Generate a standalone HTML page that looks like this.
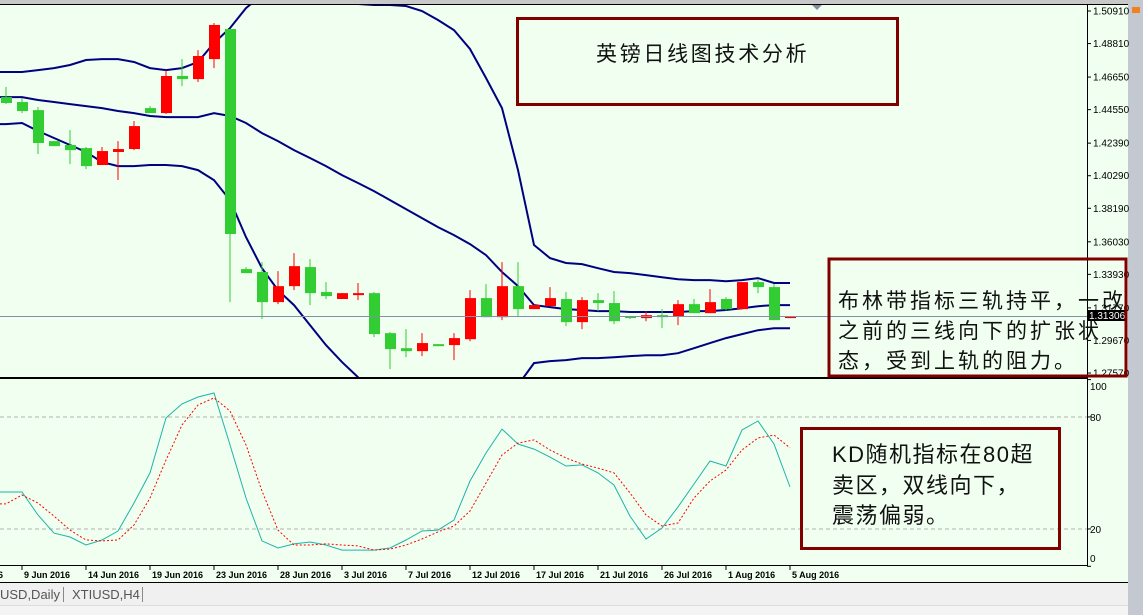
<!DOCTYPE html>
<html><head><meta charset="utf-8"><style>
html,body{margin:0;padding:0;background:#f0fff0;}
svg{display:block;}
text{font-family:"Liberation Sans","Noto Sans CJK SC",sans-serif;}
</style></head><body>
<svg id="chart" width="1143" height="615" xmlns="http://www.w3.org/2000/svg">
<rect x="0" y="0" width="1143" height="615" fill="#f0fff0"/>
<rect x="0" y="0" width="1143" height="4" fill="#c8c8c8"/>
<line x1="0" y1="4.5" x2="1128" y2="4.5" stroke="#000"/>
<rect x="1128" y="0" width="15" height="615" fill="#c4c8d0"/>
<rect x="1132" y="7" width="8" height="6" fill="#f08020"/>
<polygon points="812,5 822,5 817,10" fill="#8090a0"/>
<g id="priceGrid"></g>
<g id="bands"></g>
<g id="candles"></g>
<g id="stoch"></g>
<g id="dates"></g>

<line x1="0" y1="316.5" x2="1087" y2="316.5" stroke="#8090a8"/>
<rect x="1087" y="310" width="39" height="11" fill="#000"/>
<text x="1089" y="319" font-size="10" fill="#fff">1.31306</text>

<rect x="517.5" y="18.5" width="380" height="86" fill="none" stroke="#800000" stroke-width="3"/>
<text x="596" y="61" font-size="21" letter-spacing="2.7" fill="#111">英镑日线图技术分析</text>

<rect x="829" y="259" width="297" height="117" fill="none" stroke="#800000" stroke-width="3"/>
<g font-size="21" letter-spacing="3" fill="#111">
<text x="838" y="308">布林带指标三轨持平，一改</text>
<text x="838" y="338">之前的三线向下的扩张状</text>
<text x="838" y="368">态，受到上轨的阻力。</text>
</g>

<rect x="801.5" y="428.5" width="258" height="120" fill="none" stroke="#800000" stroke-width="3"/>
<g font-size="22" letter-spacing="1.5" fill="#111">
<text x="832" y="462">KD随机指标在80超</text>
<text x="832" y="493">卖区，双线向下，</text>
<text x="832" y="523">震荡偏弱。</text>
</g>

<rect x="0" y="583" width="1128" height="22" fill="#f0f0f0"/>
<line x1="0" y1="582.5" x2="1128" y2="582.5" stroke="#000"/>
<text x="0" y="599" font-size="13" fill="#555">USD,Daily</text>
<line x1="63.5" y1="587" x2="63.5" y2="602" stroke="#888"/>
<text x="72" y="599" font-size="13" fill="#555">XTIUSD,H4</text>
<line x1="142.5" y1="587" x2="142.5" y2="602" stroke="#888"/>
<rect x="0" y="606" width="1128" height="9" fill="#f4f4f4"/>
<line x1="0" y1="605.5" x2="1128" y2="605.5" stroke="#ddd"/>
</svg>
<script>
const opens=[1.4536,1.4504,1.4452,1.4252,1.4227,1.4207,1.4098,1.4182,1.4201,1.4465,1.4433,1.4672,1.4652,1.4781,1.4975,1.3427,1.3408,1.3214,1.3317,1.3440,1.3279,1.3234,1.3266,1.3272,1.3014,1.2917,1.2898,1.2943,1.2937,1.2975,1.3240,1.3117,1.3317,1.3169,1.3188,1.3234,1.3085,1.3227,1.3208,1.3124,1.3111,1.3130,1.3124,1.3201,1.3143,1.3234,1.3169,1.3343,1.3311,1.3111];
const highs=[1.4601,1.4530,1.4472,1.4252,1.4323,1.4214,1.4214,1.4252,1.4382,1.4478,1.4710,1.4781,1.4839,1.5014,1.4975,1.3440,1.3472,1.3414,1.3530,1.3491,1.3343,1.3272,1.3337,1.3279,1.3021,1.3040,1.3014,1.2943,1.3014,1.3291,1.3330,1.3472,1.3472,1.3195,1.3311,1.3279,1.3246,1.3272,1.3285,1.3124,1.3156,1.3169,1.3227,1.3234,1.3298,1.3246,1.3343,1.3362,1.3330,1.3124];
const lows=[1.4491,1.4433,1.4169,1.4220,1.4104,1.4072,1.4098,1.4001,1.4194,1.4433,1.4427,1.4607,1.4633,1.4723,1.3214,1.3401,1.3105,1.3201,1.3291,1.3195,1.3234,1.3234,1.3227,1.2988,1.2782,1.2859,1.2866,1.2930,1.2840,1.2962,1.3117,1.3098,1.3117,1.3169,1.3188,1.3059,1.3040,1.3156,1.3072,1.3105,1.3091,1.3047,1.3066,1.3143,1.3143,1.3160,1.3169,1.3272,1.3098,1.3111];
const closes=[1.4498,1.4446,1.4240,1.4220,1.4194,1.4091,1.4188,1.4201,1.4349,1.4433,1.4672,1.4652,1.4801,1.5001,1.3653,1.3401,1.3214,1.3317,1.3446,1.3272,1.3253,1.3272,1.3272,1.3008,1.2911,1.2898,1.2950,1.2930,1.2982,1.3240,1.3117,1.3317,1.3169,1.3195,1.3240,1.3085,1.3227,1.3208,1.3091,1.3111,1.3130,1.3117,1.3201,1.3143,1.3214,1.3169,1.3343,1.3311,1.3098,1.3124];
const bbUpper=[1.4698,1.4698,1.4710,1.4723,1.4743,1.4775,1.4781,1.4781,1.4762,1.4723,1.4710,1.4723,1.4762,1.4885,1.4981,1.5110,1.5194,1.5259,1.5291,1.5304,1.5226,1.5162,1.5136,1.5130,1.5130,1.5123,1.5091,1.5033,1.4968,1.4846,1.4659,1.4465,1.4065,1.3582,1.3498,1.3466,1.3459,1.3433,1.3408,1.3401,1.3388,1.3375,1.3362,1.3356,1.3356,1.3349,1.3356,1.3369,1.3337,1.3337];
const bbMid=[1.4536,1.4536,1.4517,1.4504,1.4491,1.4478,1.4465,1.4446,1.4433,1.4414,1.4407,1.4407,1.4407,1.4433,1.4414,1.4369,1.4304,1.4252,1.4194,1.4143,1.4091,1.4033,1.3982,1.3930,1.3872,1.3814,1.3756,1.3698,1.3646,1.3588,1.3517,1.3408,1.3317,1.3195,1.3182,1.3169,1.3163,1.3156,1.3156,1.3150,1.3150,1.3150,1.3150,1.3156,1.3156,1.3163,1.3175,1.3188,1.3195,1.3195];
const bbLower=[1.4362,1.4369,1.4317,1.4272,1.4227,1.4182,1.4117,1.4091,1.4091,1.4098,1.4098,1.4091,1.4065,1.4001,1.3872,1.3633,1.3433,1.3291,1.3195,1.3066,1.2937,1.2827,1.2730,1.2614,1.2517,1.2453,1.2421,1.2401,1.2421,1.2453,1.2517,1.2595,1.2679,1.2821,1.2834,1.2840,1.2853,1.2853,1.2859,1.2866,1.2872,1.2872,1.2885,1.2917,1.2950,1.2982,1.3008,1.3033,1.3046,1.3046];
const stochK=[39.8,39.8,27.5,17.8,15.7,11.4,14.1,18.9,33.9,50.0,79.5,87.0,90.7,92.8,65.0,36.6,13.6,9.8,12.0,13.0,11.4,8.7,8.7,8.7,9.8,14.1,18.9,19.4,24.8,45.7,60.7,73.5,65.5,62.8,58.5,53.7,54.3,50.0,43.5,26.9,14.6,20.5,31.8,44.1,56.4,53.7,73.0,77.8,65.5,42.5];
const stochD=[33.4,38.2,33.9,26.9,19.4,14.1,13.6,14.1,22.1,36.6,56.9,75.7,86.4,90.2,83.2,65.0,40.3,19.4,11.4,11.4,12.0,11.4,10.9,8.7,9.2,11.4,14.6,18.4,21.6,29.6,44.6,59.6,66.0,67.7,62.3,58.0,54.8,52.6,50.0,39.3,27.5,21.6,23.2,36.6,45.7,51.6,62.3,68.7,70.3,63.4];
const priceTicks=["1.50910","1.48810","1.46650","1.44550","1.42390","1.40290","1.38190","1.36030","1.33930","1.31770","1.29670","1.27570"];
const stochTicks=[100,80,20,0];
const stochLevels=[80,20];
const dateLabels=["9 Jun 2016","14 Jun 2016","19 Jun 2016","23 Jun 2016","28 Jun 2016","3 Jul 2016","7 Jul 2016","12 Jul 2016","17 Jul 2016","21 Jul 2016","26 Jul 2016","1 Aug 2016","5 Aug 2016"];
const dateIndex=[1,5,9,13,17,21,25,29,33,37,41,45,49];

const NS="http://www.w3.org/2000/svg";
function mk(tag,attrs,parent){const e=document.createElementNS(NS,tag);for(const k in attrs)e.setAttribute(k,attrs[k]);parent.appendChild(e);return e;}
const xOf=i=>6+16*i;
const yP=p=>11+(1.5091-p)*1551;
const yS=v=>566.3-v*1.867;
function pts(arr,yf){return '0,'+yf(arr[0]).toFixed(1)+' '+arr.map((v,i)=>xOf(i)+','+yf(v).toFixed(1)).join(' ');}

const svg=document.getElementById('chart');
const defs=mk('defs',{},svg);
const cp=mk('clipPath',{id:'topClip'},defs);mk('rect',{x:0,y:5,width:1087,height:372},cp);
const cp2=mk('clipPath',{id:'botClip'},defs);mk('rect',{x:0,y:380,width:1087,height:185},cp2);

const pg=document.getElementById('priceGrid');
let ax=mk('line',{x1:1087.5,y1:4,x2:1087.5,y2:566,stroke:'#000'},pg);


let sep=mk('rect',{x:0,y:377,width:1088,height:2,fill:'#000'},pg);


priceTicks.forEach(t=>{
  const y=yP(parseFloat(t));
  mk('line',{x1:1087,y1:y,x2:1091,y2:y,stroke:'#000'},pg);
  const tx=mk('text',{x:1093,y:y+3.5,'font-size':10,fill:'#000'},pg);tx.textContent=t;
  
  
});

const bg=document.getElementById('bands');bg.setAttribute('clip-path','url(#topClip)');
[[bbUpper,'upper'],[bbMid,'middle'],[bbLower,'lower']].forEach(([arr,n])=>{
  const pl=mk('polyline',{points:pts(arr,yP),fill:'none',stroke:'#000080','stroke-width':2},bg);
  
  
});

const cg=document.getElementById('candles');cg.setAttribute('clip-path','url(#topClip)');
opens.forEach((o,i)=>{
  const c=closes[i],up=c>=o,col=up?'#ff0000':'#32cd32',x=xOf(i);
  const g=mk('g',{},cg);
  
  
  mk('line',{x1:x,y1:yP(highs[i]),x2:x,y2:yP(lows[i]),stroke:col,'stroke-width':1},g);
  const top=yP(Math.max(o,c)),bot=yP(Math.min(o,c));
  mk('rect',{x:x-5,y:top,width:11,height:Math.max(2,bot-top),fill:col},g);
});

const sg=document.getElementById('stoch');
stochLevels.forEach(v=>{
  const l=mk('line',{x1:0,y1:yS(v),x2:1087,y2:yS(v),stroke:'#b0b0b0','stroke-dasharray':'4,3'},sg);
  
  
});
stochTicks.forEach(v=>{
  const y=yS(v);
  mk('line',{x1:1087,y1:y,x2:1091,y2:y,stroke:'#000'},sg);
  const t=mk('text',{x:1090,y:Math.min(Math.max(y+4,390),562),'font-size':10,fill:'#000'},sg);t.textContent=v;
  
  
});
const lg=mk('g',{'clip-path':'url(#botClip)'},sg);
const kl=mk('polyline',{points:pts(stochK,yS),fill:'none',stroke:'#20b2aa','stroke-width':1},lg);


const dl=mk('polyline',{points:pts(stochD,yS),fill:'none',stroke:'#ff0000','stroke-width':1,'stroke-dasharray':'2,2'},lg);



const dg=document.getElementById('dates');
let xa=mk('line',{x1:0,y1:565.5,x2:1088,y2:565.5,stroke:'#000'},dg);


const pre=mk('text',{x:-2,y:578,'font-size':9,'font-weight':'bold',fill:'#000'},dg);pre.textContent='6';


dateLabels.forEach((s,k)=>{
  const x=xOf(dateIndex[k]);
  mk('line',{x1:x,y1:565,x2:x,y2:570,stroke:'#000'},dg);
  const t=mk('text',{x:x+2,y:578,'font-size':9,'font-weight':'bold',fill:'#000'},dg);t.textContent=s;
  
  
});
</script>
</body></html>
